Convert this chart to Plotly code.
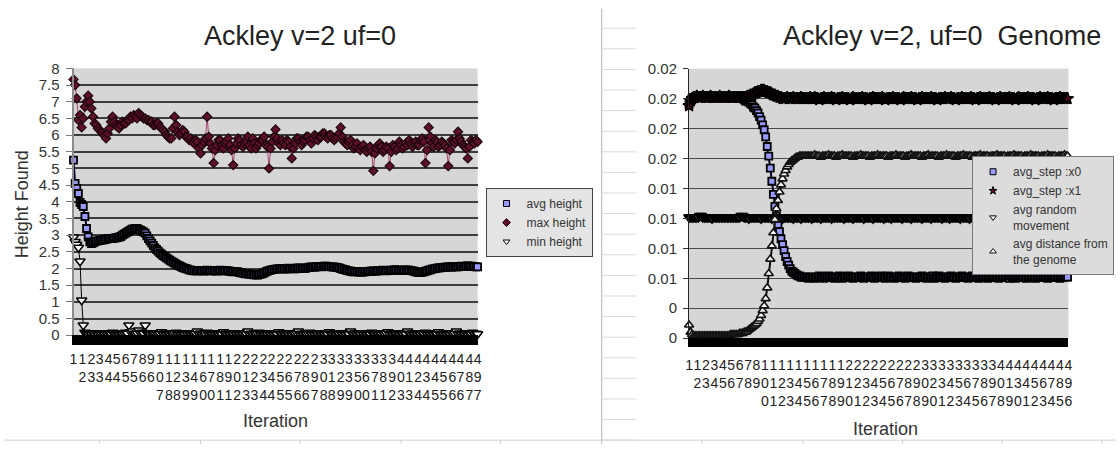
import plotly.graph_objects as go

W, H = 1120, 452
FONT = "Liberation Sans, Arial, sans-serif"

# ---------------- Ackley v=2 uf=0 : height found (every 2nd iteration) ----------------
iter_left = list(range(1, 498, 2))

avg_height = [
    5.25, 4.55, 4.40, 4.25, 3.98, 3.92, 3.86, 3.56, 3.20, 2.95,
    2.80, 2.75, 2.77, 2.80, 2.82, 2.83, 2.84, 2.86, 2.85, 2.87,
    2.88, 2.89, 2.90, 2.90, 2.90, 2.91, 2.92, 2.93, 2.94, 2.96,
    3.00, 3.03, 3.06, 3.09, 3.12, 3.15, 3.18, 3.19, 3.20, 3.20,
    3.17, 3.15, 3.13, 3.10, 3.06, 2.98, 2.90, 2.83, 2.76, 2.69,
    2.62, 2.57, 2.52, 2.47, 2.43, 2.39, 2.36, 2.32, 2.29, 2.25,
    2.22, 2.19, 2.16, 2.13, 2.10, 2.08, 2.06, 2.03, 2.01, 2.00,
    1.98, 1.96, 1.95, 1.94, 1.93, 1.93, 1.93, 1.94, 1.94, 1.93,
    1.92, 1.94, 1.95, 1.94, 1.93, 1.93, 1.94, 1.93, 1.92, 1.94,
    1.95, 1.94, 1.93, 1.93, 1.94, 1.93, 1.92, 1.91, 1.90, 1.91,
    1.91, 1.90, 1.88, 1.87, 1.86, 1.85, 1.84, 1.84, 1.83, 1.83,
    1.82, 1.81, 1.81, 1.80, 1.82, 1.83, 1.85, 1.87, 1.90, 1.92,
    1.94, 1.95, 1.97, 1.97, 1.98, 1.99, 1.99, 2.00, 2.00, 1.99,
    1.98, 1.99, 2.01, 2.00, 2.00, 1.99, 1.99, 2.01, 2.02, 2.01,
    2.01, 2.00, 2.00, 2.02, 2.03, 2.04, 2.05, 2.04, 2.04, 2.05,
    2.06, 2.06, 2.05, 2.06, 2.07, 2.07, 2.06, 2.06, 2.05, 2.05,
    2.04, 2.04, 2.03, 2.02, 2.00, 1.98, 1.97, 1.96, 1.94, 1.93,
    1.92, 1.91, 1.90, 1.90, 1.91, 1.90, 1.89, 1.89, 1.90, 1.90,
    1.91, 1.91, 1.92, 1.92, 1.93, 1.92, 1.92, 1.93, 1.94, 1.94,
    1.95, 1.94, 1.93, 1.94, 1.94, 1.95, 1.95, 1.96, 1.96, 1.95,
    1.95, 1.94, 1.94, 1.95, 1.96, 1.95, 1.95, 1.94, 1.93, 1.92,
    1.90, 1.89, 1.88, 1.88, 1.89, 1.90, 1.92, 1.93, 1.95, 1.96,
    1.98, 1.99, 2.00, 2.01, 2.02, 2.02, 2.03, 2.03, 2.04, 2.04,
    2.05, 2.05, 2.04, 2.05, 2.06, 2.05, 2.05, 2.06, 2.07, 2.06,
    2.06, 2.07, 2.08, 2.07, 2.07, 2.06, 2.06, 2.05, 2.05,
]

max_height = [
    7.67, 7.50, 7.10, 6.45, 6.60, 6.23, 6.50, 6.85, 7.00, 7.18,
    7.00, 6.80, 6.55, 6.35, 6.30, 6.20, 6.15, 6.10, 6.05, 5.98,
    5.90, 6.05, 6.20, 6.40, 6.55, 6.40, 6.30, 6.25, 6.20, 6.30,
    6.40, 6.35, 6.35, 6.45, 6.45, 6.55, 6.50, 6.60, 6.55, 6.50,
    6.66, 6.60, 6.55, 6.50, 6.50, 6.45, 6.45, 6.40, 6.40, 6.30,
    6.30, 6.35, 6.35, 6.25, 6.20, 6.15, 6.10, 6.00, 5.95, 5.90,
    5.90, 6.20, 6.55, 6.30, 6.10, 6.00, 6.05, 6.15, 6.10, 5.95,
    5.95, 5.85, 5.90, 5.80, 5.75, 5.85, 5.80, 5.60, 5.45, 5.70,
    5.80, 5.90, 6.55, 5.95, 5.75, 5.60, 5.16, 5.55, 5.70, 5.85,
    5.85, 5.70, 5.60, 5.75, 5.80, 5.90, 5.70, 5.55, 5.10, 5.60,
    5.75, 5.90, 5.85, 5.70, 5.65, 5.75, 5.80, 5.95, 5.70, 5.60,
    5.90, 5.75, 5.60, 5.70, 5.75, 5.85, 5.85, 5.95, 5.70, 5.65,
    5.00, 5.60, 5.80, 5.95, 6.17, 5.90, 5.75, 5.70, 5.85, 5.75,
    5.70, 5.85, 5.80, 5.65, 5.30, 5.60, 5.75, 5.90, 5.90, 5.80,
    5.70, 5.80, 5.85, 5.95, 5.95, 5.85, 5.75, 5.90, 6.00, 5.95,
    5.85, 5.95, 5.95, 6.05, 6.05, 5.95, 5.90, 6.00, 6.00, 5.90,
    5.85, 5.90, 5.95, 6.05, 6.23, 5.95, 5.80, 5.75, 5.70, 5.80,
    5.85, 5.70, 5.60, 5.65, 5.75, 5.60, 5.55, 5.65, 5.70, 5.55,
    5.50, 5.60, 5.65, 5.50, 4.93, 5.45, 5.60, 5.70, 5.75, 5.65,
    5.50, 5.55, 5.65, 5.60, 5.07, 5.50, 5.70, 5.65, 5.55, 5.60,
    5.80, 5.70, 5.60, 5.65, 5.75, 5.70, 5.85, 5.75, 5.65, 5.75,
    5.80, 5.70, 5.70, 5.85, 5.90, 5.80, 5.16, 5.55, 6.23, 5.95,
    5.75, 5.65, 5.85, 5.80, 5.65, 5.70, 5.80, 5.75, 5.70, 5.60,
    5.07, 5.55, 5.85, 5.80, 5.75, 5.85, 6.10, 5.90, 5.80, 5.70,
    5.65, 5.60, 5.30, 5.65, 5.85, 5.80, 5.75, 5.85, 5.80,
]

min_height = [
    2.94, 2.80, 2.72, 2.63, 2.22, 1.05, 0.30, 0.08, 0.05, 0.04,
    0.06, 0.03, 0.05, 0.04, 0.07, 0.03, 0.05, 0.04, 0.06, 0.03,
    0.05, 0.04, 0.06, 0.03, 0.08, 0.05, 0.04, 0.06, 0.03, 0.05,
    0.04, 0.06, 0.08, 0.05, 0.30, 0.10, 0.12, 0.05, 0.04, 0.06,
    0.15, 0.06, 0.08, 0.05, 0.30, 0.07, 0.05, 0.03, 0.06, 0.04,
    0.05, 0.07, 0.03, 0.05, 0.10, 0.04, 0.06, 0.03, 0.05, 0.04,
    0.06, 0.03, 0.05, 0.08, 0.04, 0.06, 0.03, 0.05, 0.04, 0.07,
    0.03, 0.05, 0.04, 0.06, 0.03, 0.05, 0.12, 0.04, 0.06, 0.03,
    0.05, 0.04, 0.08, 0.03, 0.05, 0.04, 0.06, 0.03, 0.05, 0.04,
    0.06, 0.03, 0.10, 0.05, 0.04, 0.06, 0.03, 0.05, 0.04, 0.07,
    0.03, 0.05, 0.04, 0.06, 0.03, 0.05, 0.04, 0.12, 0.03, 0.05,
    0.04, 0.06, 0.03, 0.05, 0.08, 0.04, 0.06, 0.03, 0.05, 0.04,
    0.07, 0.03, 0.05, 0.04, 0.06, 0.03, 0.10, 0.05, 0.04, 0.06,
    0.03, 0.05, 0.04, 0.07, 0.03, 0.05, 0.04, 0.06, 0.12, 0.03,
    0.05, 0.04, 0.06, 0.03, 0.05, 0.08, 0.04, 0.06, 0.03, 0.05,
    0.04, 0.07, 0.03, 0.05, 0.04, 0.06, 0.03, 0.10, 0.05, 0.04,
    0.06, 0.03, 0.05, 0.04, 0.07, 0.03, 0.05, 0.04, 0.06, 0.03,
    0.12, 0.05, 0.04, 0.06, 0.03, 0.05, 0.04, 0.07, 0.03, 0.05,
    0.04, 0.06, 0.03, 0.08, 0.05, 0.04, 0.06, 0.03, 0.05, 0.04,
    0.07, 0.03, 0.05, 0.10, 0.04, 0.06, 0.03, 0.05, 0.04, 0.06,
    0.03, 0.05, 0.04, 0.07, 0.03, 0.12, 0.05, 0.04, 0.06, 0.03,
    0.05, 0.04, 0.06, 0.03, 0.05, 0.04, 0.08, 0.03, 0.05, 0.04,
    0.06, 0.03, 0.05, 0.04, 0.10, 0.03, 0.05, 0.04, 0.06, 0.03,
    0.05, 0.04, 0.07, 0.03, 0.05, 0.12, 0.04, 0.06, 0.03, 0.05,
    0.04, 0.06, 0.03, 0.05, 0.04, 0.08, 0.03, 0.05, 0.04,
]

left_tick_iters = [
    1, 12, 23, 33, 44, 54, 65, 75, 86, 96, 107, 118, 128, 139, 149, 160,
    170, 181, 191, 202, 213, 223, 234, 244, 255, 265, 276, 286, 297, 308,
    318, 329, 339, 350, 360, 371, 381, 392, 403, 413, 424, 434, 445, 455,
    466, 476, 487, 497,
]

# ---------------- Ackley v=2, uf=0 Genome (every 2nd iteration) ----------------
iter_right = list(range(1, 498, 2))

avg_step_x0 = [
    0.0195, 0.0198, 0.0200, 0.0201, 0.0201, 0.0201, 0.0201, 0.0202, 0.0201, 0.0201,
    0.0201, 0.0201, 0.0202, 0.0201, 0.0201, 0.0201, 0.0201, 0.0201, 0.0202, 0.0201,
    0.0201, 0.0201, 0.0201, 0.0201, 0.0201, 0.0201, 0.0201, 0.0201, 0.0201, 0.0201,
    0.0201, 0.0201, 0.0200, 0.0200, 0.0200, 0.0200, 0.0199, 0.0198, 0.0198, 0.0197,
    0.0196, 0.0195, 0.0193, 0.0192, 0.0190, 0.0188, 0.0185, 0.0182, 0.0178, 0.0174,
    0.0168, 0.0160, 0.0152, 0.0142, 0.0131, 0.0120, 0.0110, 0.0102, 0.0095, 0.0089,
    0.0083, 0.0078, 0.0073, 0.0068, 0.0064, 0.0061, 0.0058, 0.0056, 0.0055, 0.0054,
    0.0053, 0.0052, 0.0052, 0.0051, 0.0051, 0.0051, 0.0051, 0.0051, 0.0050, 0.0051,
    0.0051, 0.0051, 0.0050, 0.0051, 0.0051, 0.0052, 0.0051, 0.0051, 0.0050, 0.0051,
    0.0051, 0.0052, 0.0051, 0.0051, 0.0051, 0.0050, 0.0051, 0.0051, 0.0052, 0.0051,
    0.0050, 0.0051, 0.0051, 0.0051, 0.0052, 0.0051, 0.0051, 0.0050, 0.0051, 0.0051,
    0.0051, 0.0051, 0.0052, 0.0051, 0.0050, 0.0051, 0.0051, 0.0051, 0.0051, 0.0052,
    0.0051, 0.0050, 0.0051, 0.0051, 0.0051, 0.0052, 0.0051, 0.0051, 0.0050, 0.0051,
    0.0052, 0.0051, 0.0051, 0.0051, 0.0050, 0.0051, 0.0051, 0.0052, 0.0051, 0.0051,
    0.0051, 0.0050, 0.0051, 0.0052, 0.0051, 0.0051, 0.0051, 0.0051, 0.0050, 0.0051,
    0.0051, 0.0051, 0.0052, 0.0051, 0.0051, 0.0050, 0.0051, 0.0051, 0.0051, 0.0052,
    0.0050, 0.0051, 0.0051, 0.0052, 0.0051, 0.0051, 0.0051, 0.0050, 0.0051, 0.0051,
    0.0051, 0.0052, 0.0051, 0.0051, 0.0050, 0.0051, 0.0051, 0.0051, 0.0052, 0.0051,
    0.0051, 0.0051, 0.0050, 0.0051, 0.0051, 0.0052, 0.0051, 0.0051, 0.0051, 0.0050,
    0.0051, 0.0052, 0.0051, 0.0051, 0.0051, 0.0050, 0.0051, 0.0052, 0.0051, 0.0051,
    0.0051, 0.0051, 0.0050, 0.0051, 0.0052, 0.0051, 0.0051, 0.0051, 0.0051, 0.0050,
    0.0052, 0.0051, 0.0051, 0.0050, 0.0051, 0.0051, 0.0052, 0.0051, 0.0051, 0.0051,
    0.0050, 0.0051, 0.0051, 0.0051, 0.0052, 0.0051, 0.0050, 0.0051, 0.0051, 0.0051,
    0.0051, 0.0052, 0.0051, 0.0051, 0.0050, 0.0051, 0.0051, 0.0052, 0.0051, 0.0051,
    0.0051, 0.0051, 0.0050, 0.0051, 0.0051, 0.0052, 0.0051, 0.0051, 0.0052,
]

avg_step_x1 = [
    0.0194, 0.0198, 0.0200, 0.0201, 0.0201, 0.0202, 0.0201, 0.0201, 0.0201, 0.0202,
    0.0201, 0.0201, 0.0201, 0.0201, 0.0202, 0.0201, 0.0201, 0.0201, 0.0201, 0.0201,
    0.0202, 0.0201, 0.0201, 0.0201, 0.0201, 0.0201, 0.0202, 0.0201, 0.0201, 0.0201,
    0.0201, 0.0201, 0.0201, 0.0201, 0.0201, 0.0201, 0.0201, 0.0201, 0.0202, 0.0202,
    0.0203, 0.0203, 0.0204, 0.0205, 0.0205, 0.0206, 0.0206, 0.0207, 0.0207, 0.0207,
    0.0206, 0.0206, 0.0205, 0.0205, 0.0204, 0.0203, 0.0203, 0.0202, 0.0202, 0.0201,
    0.0201, 0.0200, 0.0200, 0.0200, 0.0201, 0.0200, 0.0200, 0.0200, 0.0201, 0.0200,
    0.0200, 0.0200, 0.0200, 0.0201, 0.0200, 0.0200, 0.0200, 0.0200, 0.0200, 0.0201,
    0.0200, 0.0200, 0.0201, 0.0200, 0.0200, 0.0199, 0.0200, 0.0200, 0.0201, 0.0200,
    0.0200, 0.0200, 0.0200, 0.0201, 0.0200, 0.0200, 0.0199, 0.0200, 0.0200, 0.0200,
    0.0201, 0.0200, 0.0200, 0.0200, 0.0200, 0.0199, 0.0200, 0.0201, 0.0200, 0.0200,
    0.0200, 0.0200, 0.0200, 0.0201, 0.0200, 0.0200, 0.0200, 0.0199, 0.0200, 0.0200,
    0.0201, 0.0200, 0.0200, 0.0200, 0.0200, 0.0200, 0.0201, 0.0200, 0.0199, 0.0200,
    0.0200, 0.0200, 0.0200, 0.0201, 0.0200, 0.0200, 0.0200, 0.0200, 0.0199, 0.0200,
    0.0201, 0.0200, 0.0200, 0.0200, 0.0200, 0.0201, 0.0200, 0.0200, 0.0200, 0.0199,
    0.0200, 0.0200, 0.0201, 0.0200, 0.0200, 0.0200, 0.0200, 0.0200, 0.0201, 0.0200,
    0.0200, 0.0200, 0.0199, 0.0200, 0.0200, 0.0200, 0.0200, 0.0201, 0.0200, 0.0200,
    0.0200, 0.0201, 0.0200, 0.0200, 0.0199, 0.0200, 0.0200, 0.0200, 0.0201, 0.0200,
    0.0200, 0.0200, 0.0200, 0.0200, 0.0201, 0.0200, 0.0200, 0.0199, 0.0200, 0.0200,
    0.0201, 0.0200, 0.0200, 0.0200, 0.0200, 0.0200, 0.0201, 0.0200, 0.0200, 0.0200,
    0.0199, 0.0200, 0.0200, 0.0201, 0.0200, 0.0200, 0.0200, 0.0200, 0.0200, 0.0201,
    0.0200, 0.0200, 0.0200, 0.0199, 0.0200, 0.0201, 0.0200, 0.0200, 0.0200, 0.0200,
    0.0200, 0.0201, 0.0200, 0.0200, 0.0200, 0.0200, 0.0199, 0.0200, 0.0200, 0.0201,
    0.0200, 0.0200, 0.0200, 0.0200, 0.0201, 0.0200, 0.0200, 0.0200, 0.0199, 0.0200,
    0.0200, 0.0200, 0.0201, 0.0200, 0.0200, 0.0200, 0.0200, 0.0200, 0.0200,
]

avg_random_movement = [
    0.0101, 0.0101, 0.0101, 0.0101, 0.0101, 0.0101, 0.0101, 0.0102, 0.0102, 0.0101,
    0.0101, 0.0101, 0.0101, 0.0101, 0.0101, 0.0100, 0.0101, 0.0101, 0.0101, 0.0101,
    0.0101, 0.0101, 0.0101, 0.0101, 0.0101, 0.0101, 0.0101, 0.0101, 0.0101, 0.0101,
    0.0101, 0.0101, 0.0101, 0.0101, 0.0102, 0.0102, 0.0101, 0.0101, 0.0101, 0.0100,
    0.0101, 0.0101, 0.0101, 0.0101, 0.0101, 0.0101, 0.0101, 0.0100, 0.0101, 0.0101,
    0.0101, 0.0101, 0.0101, 0.0101, 0.0100, 0.0101, 0.0101, 0.0101, 0.0101, 0.0101,
    0.0101, 0.0100, 0.0101, 0.0101, 0.0101, 0.0101, 0.0101, 0.0101, 0.0100, 0.0101,
    0.0101, 0.0101, 0.0101, 0.0100, 0.0101, 0.0101, 0.0101, 0.0101, 0.0101, 0.0101,
    0.0100, 0.0101, 0.0101, 0.0101, 0.0101, 0.0101, 0.0100, 0.0101, 0.0101, 0.0101,
    0.0101, 0.0101, 0.0101, 0.0100, 0.0101, 0.0101, 0.0101, 0.0101, 0.0101, 0.0101,
    0.0101, 0.0100, 0.0101, 0.0101, 0.0101, 0.0101, 0.0101, 0.0100, 0.0101, 0.0101,
    0.0101, 0.0101, 0.0101, 0.0101, 0.0100, 0.0101, 0.0101, 0.0101, 0.0101, 0.0101,
    0.0100, 0.0101, 0.0101, 0.0101, 0.0101, 0.0101, 0.0101, 0.0100, 0.0101, 0.0101,
    0.0101, 0.0101, 0.0100, 0.0101, 0.0101, 0.0101, 0.0101, 0.0101, 0.0101, 0.0100,
    0.0101, 0.0101, 0.0101, 0.0101, 0.0101, 0.0100, 0.0101, 0.0101, 0.0101, 0.0101,
    0.0101, 0.0101, 0.0100, 0.0101, 0.0101, 0.0101, 0.0101, 0.0101, 0.0100, 0.0101,
    0.0101, 0.0101, 0.0101, 0.0101, 0.0101, 0.0100, 0.0101, 0.0101, 0.0101, 0.0101,
    0.0100, 0.0101, 0.0101, 0.0101, 0.0101, 0.0101, 0.0101, 0.0100, 0.0101, 0.0101,
    0.0101, 0.0101, 0.0101, 0.0100, 0.0101, 0.0101, 0.0101, 0.0101, 0.0101, 0.0101,
    0.0100, 0.0101, 0.0101, 0.0101, 0.0101, 0.0100, 0.0101, 0.0101, 0.0101, 0.0101,
    0.0101, 0.0101, 0.0100, 0.0101, 0.0101, 0.0101, 0.0101, 0.0101, 0.0101, 0.0100,
    0.0101, 0.0101, 0.0101, 0.0101, 0.0100, 0.0101, 0.0101, 0.0101, 0.0101, 0.0101,
    0.0101, 0.0100, 0.0101, 0.0101, 0.0101, 0.0101, 0.0101, 0.0100, 0.0101, 0.0101,
    0.0101, 0.0101, 0.0101, 0.0101, 0.0100, 0.0101, 0.0101, 0.0101, 0.0101, 0.0101,
    0.0101, 0.0100, 0.0101, 0.0101, 0.0101, 0.0101, 0.0101, 0.0101, 0.0101,
]

avg_distance_from_genome = [
    0.0011, 0.0005, 0.0003, 0.0002, 0.0002, 0.0002, 0.0002, 0.0002, 0.0002, 0.0002,
    0.0002, 0.0002, 0.0002, 0.0002, 0.0002, 0.0002, 0.0002, 0.0002, 0.0002, 0.0002,
    0.0002, 0.0002, 0.0002, 0.0002, 0.0002, 0.0002, 0.0002, 0.0003, 0.0003, 0.0003,
    0.0003, 0.0003, 0.0003, 0.0004, 0.0004, 0.0004, 0.0005, 0.0005, 0.0006, 0.0007,
    0.0008, 0.0009, 0.0010, 0.0011, 0.0012, 0.0014, 0.0016, 0.0019, 0.0023, 0.0027,
    0.0033, 0.0042, 0.0054, 0.0066, 0.0077, 0.0088, 0.0099, 0.0108, 0.0115, 0.0122,
    0.0128, 0.0133, 0.0137, 0.0140, 0.0143, 0.0145, 0.0147, 0.0148, 0.0149, 0.0150,
    0.0151, 0.0151, 0.0152, 0.0152, 0.0152, 0.0152, 0.0152, 0.0152, 0.0152, 0.0152,
    0.0152, 0.0152, 0.0153, 0.0152, 0.0152, 0.0152, 0.0151, 0.0152, 0.0152, 0.0152,
    0.0152, 0.0153, 0.0152, 0.0152, 0.0152, 0.0152, 0.0151, 0.0152, 0.0152, 0.0152,
    0.0153, 0.0152, 0.0152, 0.0152, 0.0152, 0.0152, 0.0152, 0.0151, 0.0152, 0.0152,
    0.0152, 0.0152, 0.0153, 0.0152, 0.0152, 0.0152, 0.0152, 0.0152, 0.0151, 0.0152,
    0.0152, 0.0152, 0.0152, 0.0153, 0.0152, 0.0152, 0.0152, 0.0152, 0.0152, 0.0152,
    0.0151, 0.0152, 0.0152, 0.0152, 0.0152, 0.0153, 0.0152, 0.0152, 0.0152, 0.0152,
    0.0152, 0.0151, 0.0152, 0.0152, 0.0152, 0.0153, 0.0152, 0.0152, 0.0152, 0.0152,
    0.0152, 0.0152, 0.0151, 0.0152, 0.0152, 0.0152, 0.0153, 0.0152, 0.0152, 0.0152,
    0.0152, 0.0152, 0.0152, 0.0151, 0.0152, 0.0152, 0.0152, 0.0152, 0.0153, 0.0152,
    0.0152, 0.0152, 0.0152, 0.0152, 0.0151, 0.0152, 0.0152, 0.0152, 0.0152, 0.0153,
    0.0152, 0.0152, 0.0152, 0.0152, 0.0152, 0.0151, 0.0152, 0.0152, 0.0152, 0.0152,
    0.0153, 0.0152, 0.0152, 0.0152, 0.0152, 0.0152, 0.0151, 0.0152, 0.0152, 0.0152,
    0.0152, 0.0153, 0.0152, 0.0152, 0.0152, 0.0152, 0.0152, 0.0151, 0.0152, 0.0152,
    0.0152, 0.0152, 0.0153, 0.0152, 0.0152, 0.0152, 0.0152, 0.0152, 0.0151, 0.0152,
    0.0152, 0.0152, 0.0152, 0.0153, 0.0152, 0.0152, 0.0152, 0.0152, 0.0152, 0.0151,
    0.0152, 0.0152, 0.0152, 0.0152, 0.0153, 0.0152, 0.0152, 0.0152, 0.0152, 0.0152,
    0.0151, 0.0152, 0.0152, 0.0152, 0.0152, 0.0153, 0.0152, 0.0152, 0.0152,
]

right_tick_iters = list(range(1, 497, 11))
right_y_ticks = [0, 0.0025, 0.005, 0.0075, 0.01, 0.0125, 0.015, 0.0175, 0.02, 0.0225]
right_y_labels = ["0", "0", "0.01", "0.01", "0.01", "0.01", "0.02", "0.02", "0.02", "0.02"]

for name, arr, xs in [("avg_height", avg_height, iter_left), ("max_height", max_height, iter_left),
                      ("min_height", min_height, iter_left), ("x0", avg_step_x0, iter_right),
                      ("x1", avg_step_x1, iter_right), ("rand", avg_random_movement, iter_right),
                      ("dist", avg_distance_from_genome, iter_right)]:
    assert len(arr) == len(xs), (name, len(arr), len(xs))


def px(x):
    return x / W


def py(y):
    return 1 - y / H


fig = go.Figure()

# series styles: (symbol, fill, outline, outline width, line colour, line width, size)
left_series = [
    ("avg height", avg_height, "square", "#9999FF", "#000000", 1.8, "#000033", 2.0, 7),
    ("max height", max_height, "diamond", "#5e1029", "#1e050c", 1.2, "#a34470", 1.0, 7),
    ("min height", min_height, "triangle-down", "#FFFFFF", "#000000", 1.5, "#000000", 1.0, 9),
]
for name, vals, sym, fill, edge, ew, lcol, lw, size in left_series:
    fig.add_trace(go.Scatter(
        x=iter_left, y=vals, mode="lines+markers", name=name, showlegend=False,
        xaxis="x", yaxis="y", cliponaxis=False,
        line=dict(color=lcol, width=lw),
        marker=dict(symbol=sym, color=fill, size=size, line=dict(color=edge, width=ew)),
    ))
    fig.add_trace(go.Scatter(
        x=[None], y=[None], mode="markers", name=name, legend="legend",
        xaxis="x", yaxis="y",
        marker=dict(symbol=sym, color=fill, size=6, line=dict(color=edge, width=1)),
    ))

right_series = [
    ("avg_step :x0", avg_step_x0, "square", "#9999FF", "#000000", 1.8, "#000033", 2.0, 7),
    ("avg_step :x1", avg_step_x1, "star", "#5a0a1e", "#000000", 1.5, "#000000", 2.5, 9),
    ("avg random<br>movement", avg_random_movement, "triangle-down", "#FFFFFF", "#000000", 2.0, "#000000", 2.5, 9),
    ("avg distance from<br>the genome", avg_distance_from_genome, "triangle-up", "#FFFFFF", "#111111", 1.6, "#111111", 2.0, 8),
]
for name, vals, sym, fill, edge, ew, lcol, lw, size in right_series:
    fig.add_trace(go.Scatter(
        x=iter_right, y=vals, mode="lines+markers", name=name, showlegend=False,
        xaxis="x2", yaxis="y2", cliponaxis=False,
        line=dict(color=lcol, width=lw),
        marker=dict(symbol=sym, color=fill, size=size, line=dict(color=edge, width=ew)),
    ))
    fig.add_trace(go.Scatter(
        x=[None], y=[None], mode="markers", name=name, legend="legend2",
        xaxis="x2", yaxis="y2",
        marker=dict(symbol=sym, color=fill, size=6, line=dict(color=edge, width=1)),
    ))

tick_font = dict(family=FONT, size=14, color="#222222")

fig.update_layout(
    width=W, height=H,
    margin=dict(l=0, r=0, t=0, b=0),
    paper_bgcolor="#FFFFFF",
    plot_bgcolor="#D6D6D6",
    font=dict(family=FONT, color="#333333"),
    xaxis=dict(
        domain=[px(70), px(477)], range=[1, 497], anchor="y",
        tickmode="array", tickvals=left_tick_iters,
        ticktext=["<br>".join(str(v)) for v in left_tick_iters],
        tickangle=0, tickfont=tick_font, ticks="", ticklabelstandoff=2,
        showgrid=False, zeroline=False,
        showline=True, linecolor="#000000", linewidth=10,
    ),
    yaxis=dict(
        domain=[py(339), py(61.7)], range=[0, 8], anchor="x", dtick=0.5,
        tickfont=dict(family=FONT, size=15, color="#333333"),
        ticks="outside", ticklen=6, tickcolor="#777777", tickwidth=1, ticklabelstandoff=3,
        showgrid=True, gridcolor="#3c3c3c", gridwidth=1.6, zeroline=False,
        showline=True, linecolor="#8c8c8c", linewidth=2,
    ),
    xaxis2=dict(
        domain=[px(690), px(1072)], range=[1, 496], anchor="y2",
        tickmode="array", tickvals=right_tick_iters,
        ticktext=["<br>".join(str(v)) for v in right_tick_iters],
        tickangle=0, tickfont=tick_font, ticks="", ticklabelstandoff=6,
        showgrid=False, zeroline=False,
        showline=True, linecolor="#000000", linewidth=9,
    ),
    yaxis2=dict(
        domain=[py(342), py(62)], range=[0, 0.0225], anchor="x2",
        tickmode="array", tickvals=right_y_ticks, ticktext=right_y_labels,
        tickfont=dict(family=FONT, size=15, color="#333333"),
        ticks="outside", ticklen=5, tickcolor="#333333", tickwidth=1, ticklabelstandoff=3,
        showgrid=True, gridcolor="#4a4a4a", gridwidth=1.2, zeroline=False,
        showline=True, linecolor="#222222", linewidth=1,
    ),
    legend=dict(
        x=px(485), y=py(186), xanchor="left", yanchor="top",
        bgcolor="#E4E4E4", bordercolor="#444444", borderwidth=1,
        font=dict(family=FONT, size=12, color="#333333"),
        itemsizing="trace", tracegroupgap=0,
    ),
    legend2=dict(
        x=px(975), y=py(153), xanchor="left", yanchor="top",
        bgcolor="#DCDCDC", bordercolor="#777777", borderwidth=1,
        font=dict(family=FONT, size=12, color="#333333"),
        itemsizing="trace", tracegroupgap=0,
    ),
)

title_font = dict(family=FONT, size=27, color="#222222")
axis_title_font = dict(family=FONT, size=18, color="#333333")
annotations = [
    dict(text="Ackley v=2 uf=0", x=px(298), y=py(28), font=title_font),
    dict(text="Ackley v=2, uf=0\u00a0 Genome", x=px(945), y=py(28), font=title_font),
    dict(text="Height Found", x=px(18), y=py(203), textangle=-90, font=axis_title_font),
    dict(text="Iteration", x=px(273), y=py(428), font=axis_title_font),
    dict(text="Iteration", x=px(888), y=py(436), font=axis_title_font),
]
for a in annotations:
    a.update(xref="paper", yref="paper", showarrow=False, xanchor="center", yanchor="middle")
fig.update_layout(annotations=annotations)

# worksheet cell borders around the two charts
shapes = [
    dict(type="line", x0=0, x1=1, y0=py(448), y1=py(448), line=dict(color="#CFCFCF", width=1)),
    dict(type="line", x0=px(602), x1=px(602), y0=0, y1=1, line=dict(color="#B4B4B4", width=1)),
]
for cx in [96, 198, 298, 400, 500, 703, 805, 905, 1005, 1106]:
    shapes.append(dict(type="line", x0=px(cx), x1=px(cx), y0=0, y1=py(448),
                       line=dict(color="#CFCFCF", width=1)))
row_y = 20.0
while row_y < 448:
    shapes.append(dict(type="line", x0=px(602), x1=px(637), y0=py(row_y), y1=py(row_y),
                       line=dict(color="#DADADA", width=1)))
    row_y += 21.4
for s in shapes:
    s.update(xref="paper", yref="paper", layer="below")
fig.update_layout(shapes=shapes)

fig.write_html("out.html")
